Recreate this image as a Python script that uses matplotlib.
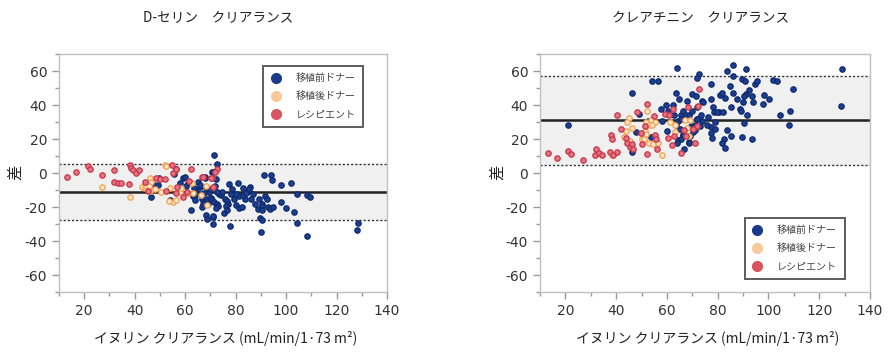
import numpy as np
import matplotlib
matplotlib.use("Agg")
import matplotlib.pyplot as plt

plt.rcParams['font.family'] = ['DejaVu Sans', 'Noto Sans CJK JP']
plt.rcParams['axes.unicode_minus'] = False

group_labels = ["移植前ドナー", "移植後ドナー", "レシピエント"]
titles = ["D-セリン　クリアランス", "クレアチニン　クリアランス"]
xlabel = "イヌリン クリアランス (mL/min/1·73 m²)"
ylabel = "差"

# D-serine panel: (inulin clearance, difference)
ser_pre_x = [46.3, 47.6, 49.4, 49.6, 53.9, 55.6, 56.5, 57.8, 59.1, 59.9, 61.3, 62.4, 63.5, 64.2,
             64.8, 65.2, 66.5, 67.5, 66.8, 67.9, 68.1, 68.4, 68.5, 69.4, 70.1, 70.8, 71.0, 71.4,
             71.0, 72.8, 71.2, 72.2, 71.8, 67.7, 67.5, 68.5, 67.0, 69.9, 70.5, 71.4, 72.5, 73.2,
             72.2, 71.2, 74.1, 75.8, 76.5, 77.1, 76.2, 75.4, 76.5, 77.8, 77.3, 78.7, 80.8, 81.4,
             82.8, 83.7, 84.7, 85.7, 86.0, 85.4, 80.2, 81.2, 82.4, 87.7, 89.4, 90.3, 91.7, 92.3,
             89.0, 90.6, 90.5, 93.0, 93.6, 95.0, 89.7, 90.3, 89.9, 91.3, 93.9, 94.3, 98.0, 101.8,
             97.9, 100.0, 103.2, 104.2, 108.4, 109.5, 104.5, 108.2, 128.6, 128.2, 63.0, 65.8,
             69.0, 73.5, 74.8, 78.0, 79.5, 80.0, 83.0, 84.0, 86.8, 70.0, 72.8, 66.0, 64.0, 60.5]
ser_pre_y = [-14.3, -6.7, -7.1, -2.8, -15.9, -0.4, 2.3, -5.5, -3.1, -2.4, -5.7, -21.4, -9.0, -10.6,
             -12.0, -5.1, -14.9, -16.9, -19.8, -2.4, -8.1, -24.3, -26.7, -11.0, -14.5, 0.4, -25.7, 10.6,
             -29.6, 5.1, 0.8, -3.5, -7.7, -2.6, -11.4, -14.9, -17.9, -14.5, -15.9, -16.9, -17.9, -19.2,
             -20.4, -25.3, -13.0, -14.9, -16.5, -17.9, -19.2, -23.7, -21.8, -31.0, -6.1, -9.6, -5.7, -13.5,
             -8.6, -14.9, -11.0, -8.0, -14.9, -9.6, -18.8, -20.4, -19.8, -17.9, -15.3, -17.9, -13.3, -14.9,
             -20.8, -19.2, -21.6, -19.8, -20.8, -19.8, -26.3, -27.3, -34.5, -1.2, -0.8, -4.3, -7.1, -5.5,
             -16.9, -20.4, -22.8, -12.0, -13.0, -14.1, -29.0, -37.0, -29.0, -33.5, -13.5, -8.0,
             -18.0, -12.5, -11.0, -12.0, -15.0, -12.5, -13.0, -11.5, -12.0, -9.5, -11.0, -7.0, -15.5, -7.5]
ser_post_x = [27.2, 38.1, 43.0, 44.1, 44.6, 45.9, 46.5, 45.9, 45.7, 50.4, 52.0, 52.5, 54.1, 55.2,
              56.5, 53.6, 57.8, 61.0, 63.1, 66.3, 62.6, 68.1, 68.8, 58.5, 48.0]
ser_post_y = [-8.0, -14.3, -8.0, -9.0, -7.5, -2.8, -5.1, -10.6, -7.5, -11.0, 4.7, 4.3, -8.6, -16.9,
              -15.9, -16.5, -11.0, -11.4, -11.6, -13.0, -5.5, -7.5, -18.8, -8.5, -9.5]
ser_rec_x = [13.3, 16.6, 21.4, 22.2, 27.2, 31.8, 31.8, 33.4, 34.6, 37.7, 38.0, 38.5, 39.3, 40.4,
             41.8, 44.2, 45.4, 48.6, 49.9, 52.0, 54.9, 55.3, 56.5, 52.5, 56.9, 59.1, 60.6, 61.5,
             62.3, 56.2, 66.8, 70.5, 72.5, 71.7, 67.0, 70.4, 70.9]
ser_rec_y = [-2.4, 0.4, 4.3, 2.5, -1.0, 1.9, -5.1, -5.9, -5.9, -6.1, 4.7, 3.1, 1.6, 0.0,
             1.6, -5.3, -10.6, -2.8, -3.3, -3.5, 4.7, -0.2, 2.7, -10.6, -8.1, -14.3, -11.0, -4.7,
             2.3, -11.4, -2.4, -2.8, 2.3, 0.4, -2.2, -2.8, -8.0]
ser_mean, ser_upper, ser_lower = -11.2, 5.5, -27.8

# creatinine panel
cre_pre_x = [21.2, 46.1, 46.1, 49.1, 47.8, 54.0, 56.6, 53.6, 52.7, 57.5, 59.6, 60.6, 57.9, 59.9,
             63.8, 63.6, 64.9, 62.5, 62.8, 64.2, 63.5, 65.0, 65.6, 66.5, 67.6, 68.2, 68.8, 66.2,
             67.9, 70.0, 70.0, 66.2, 68.7, 69.6, 64.2, 63.9, 65.5, 66.9, 68.8, 70.1, 65.7, 71.8,
             72.8, 72.0, 77.2, 83.8, 85.9, 85.9, 91.2, 89.5, 90.8, 94.7, 95.4, 101.9, 103.5, 109.8,
             128.9, 128.5, 108.5, 108.2, 104.6, 98.3, 100.1, 98.0, 94.1, 93.4, 92.2, 91.2, 90.4,
             84.9, 85.9, 87.5, 89.9, 88.8, 89.1, 91.4, 90.5, 93.4, 89.7, 85.4, 83.8, 85.4, 82.5,
             82.9, 81.6, 80.9, 81.6, 82.8, 77.2, 78.0, 80.7, 78.5, 79.9, 82.2, 79.0, 77.2, 76.3,
             75.7, 79.0, 77.5, 77.8, 73.7, 74.4, 71.5, 71.7, 73.3, 74.0, 72.0, 71.2, 71.1, 69.1,
             73.0]
cre_pre_y = [28.0, 47.0, 12.3, 34.9, 24.1, 53.9, 53.9, 21.2, 30.4, 37.8, 39.8, 36.8, 30.4, 24.5,
             61.7, 47.2, 43.7, 40.2, 33.9, 30.9, 28.0, 26.1, 34.1, 36.6, 33.9, 31.6, 34.4, 22.5,
             42.1, 46.6, 36.6, 22.4, 18.4, 27.8, 19.4, 17.8, 20.2, 14.0, 17.8, 24.1, 32.0, 32.1,
             58.4, 55.9, 52.5, 59.8, 63.7, 57.0, 61.0, 55.1, 53.9, 52.5, 53.9, 54.5, 53.9, 49.6,
             61.0, 39.2, 36.3, 28.0, 33.9, 46.1, 43.3, 40.8, 41.7, 45.3, 49.0, 46.6, 45.3,
             51.2, 47.2, 43.3, 41.7, 37.8, 36.3, 33.9, 29.6, 19.8, 21.4, 38.8, 25.1, 21.7, 20.2,
             14.7, 17.8, 45.7, 47.2, 44.1, 43.3, 38.8, 35.9, 35.9, 35.9, 35.9, 30.2, 27.1, 32.9,
             28.0, 25.7, 23.6, 20.8, 42.2, 41.8, 45.3, 38.8, 34.3, 30.8, 31.8, 25.5, 28.5, 22.1,
             27.8]
cre_post_x = [45.2, 44.4, 43.9, 43.1, 46.2, 45.5, 38.2, 52.3, 51.8, 53.6, 55.3, 53.1, 54.0, 50.0,
              51.0, 51.4, 53.1, 54.4, 56.6, 51.8, 57.9, 61.2, 63.2, 63.2, 67.1, 68.8, 67.8, 69.1]
cre_post_y = [32.3, 30.0, 24.5, 21.2, 26.5, 18.6, 10.8, 36.3, 30.0, 31.0, 30.0, 28.0, 28.0, 20.2,
              19.8, 24.5, 17.8, 17.2, 17.8, 23.1, 10.8, 30.0, 28.0, 24.1, 31.0, 22.1, 26.5, 31.0]
cre_rec_x = [13.3, 16.6, 21.2, 22.1, 27.1, 32.1, 31.7, 33.4, 34.4, 37.6, 38.6, 40.2, 37.8, 38.2,
             40.2, 41.8, 43.9, 44.4, 45.5, 46.1, 46.8, 48.3, 49.7, 50.0, 51.5, 52.0, 52.3, 54.9,
             55.3, 55.7, 56.2, 59.2, 61.0, 60.6, 61.9, 62.3, 62.8, 65.4, 66.7, 67.5, 68.4, 71.7,
             72.8, 72.3, 70.4, 71.2]
cre_rec_y = [11.9, 8.8, 13.3, 11.4, 8.0, 13.9, 10.8, 11.9, 10.8, 12.7, 10.8, 12.7, 22.5, 20.2,
             33.9, 25.7, 20.6, 17.8, 15.3, 17.2, 14.3, 35.9, 23.5, 17.2, 27.6, 40.8, 11.2, 33.5,
             22.5, 20.2, 14.3, 34.9, 34.3, 20.6, 16.7, 37.8, 22.1, 11.9, 25.1, 22.1, 38.8, 27.6,
             49.6, 39.4, 25.7, 17.8]
cre_mean, cre_upper, cre_lower = 31.1, 57.3, 4.9

panels = [
    (titles[0], [(ser_pre_x, ser_pre_y), (ser_post_x, ser_post_y), (ser_rec_x, ser_rec_y)],
     (ser_mean, ser_upper, ser_lower), (0.622, 0.95)),
    (titles[1], [(cre_pre_x, cre_pre_y), (cre_post_x, cre_post_y), (cre_rec_x, cre_rec_y)],
     (cre_mean, cre_upper, cre_lower), (0.620, 0.312)),
]

face = ['#1c3f94', '#fde6cc', '#e57381']
edge = ['#0f2a6a', '#f3a04e', '#c73548']
legend_col = ['#1a3a8c', '#f9c89b', '#d9545f']

fig = plt.figure(figsize=(8.88, 3.58), dpi=100)
lefts = [59 / 888, 540 / 888]
widths = [328 / 888, 330 / 888]

for i, (title, groups, (m, up, lo), leg_pos) in enumerate(panels):
    ax = fig.add_axes([lefts[i], 1 - 292.3 / 358, widths[i], 238.3 / 358])
    ax.set_xlim(10, 140)
    ax.set_ylim(-70, 70)
    ax.axhspan(lo, up, color='#f0f0f0', zorder=0)
    ax.axhline(up, color='#333333', ls=(0, (1.5, 1.5)), lw=1.0, zorder=1)
    ax.axhline(lo, color='#333333', ls=(0, (1.5, 1.5)), lw=1.0, zorder=1)
    ax.axhline(m, color='#222222', lw=1.8, zorder=1)

    for j, (gx, gy) in enumerate(groups):
        ax.scatter(gx, gy, s=15, facecolor=face[j], edgecolor=edge[j], linewidths=0.9, zorder=3 + j)

    handles = [plt.Line2D([], [], ls='none', marker='o', markersize=7, markerfacecolor=c,
                          markeredgecolor=c) for c in legend_col]
    leg = ax.legend(handles, group_labels, loc='upper left', bbox_to_anchor=leg_pos,
                    frameon=True, fancybox=False, fontsize=7.2, handlelength=1.0,
                    handletextpad=1.5, labelspacing=0.8, borderpad=0.75, borderaxespad=0)
    leg.get_frame().set_edgecolor('#333333')
    leg.get_frame().set_linewidth(1.4)
    for t in leg.get_texts():
        t.set_color('#444444')

    ax.set_xticks([20, 40, 60, 80, 100, 120, 140])
    ax.set_xticks(np.arange(10, 141, 10), minor=True)
    ax.set_yticks([-60, -40, -20, 0, 20, 40, 60])
    ax.set_yticks(np.arange(-70, 71, 10), minor=True)
    ax.tick_params(axis='both', which='major', length=5, color='#999999', labelsize=10,
                   labelcolor='#333333', width=1)
    ax.tick_params(axis='both', which='minor', length=3, color='#999999', width=1)
    for s in ax.spines.values():
        s.set_color('#c0c0c0')
        s.set_linewidth(1.0)

    cx = lefts[i] + widths[i] / 2
    fig.text(cx - 0.005, 1 - 17 / 358, title, ha='center', va='center', fontsize=9.8,
             color='#222222', family=['Noto Sans CJK JP', 'DejaVu Sans'])
    fig.text(cx + 0.003, 1 - 339 / 358, xlabel, ha='center', va='center', fontsize=10,
             color='#222222', family=['Noto Sans CJK JP', 'DejaVu Sans'])
    fig.text((15 if i == 0 else 497) / 888, 1 - 172 / 358, ylabel, ha='center', va='center',
             rotation=90, fontsize=11, color='#222222', family=['Noto Sans CJK JP'])

fig.savefig('out.png', dpi=100)
